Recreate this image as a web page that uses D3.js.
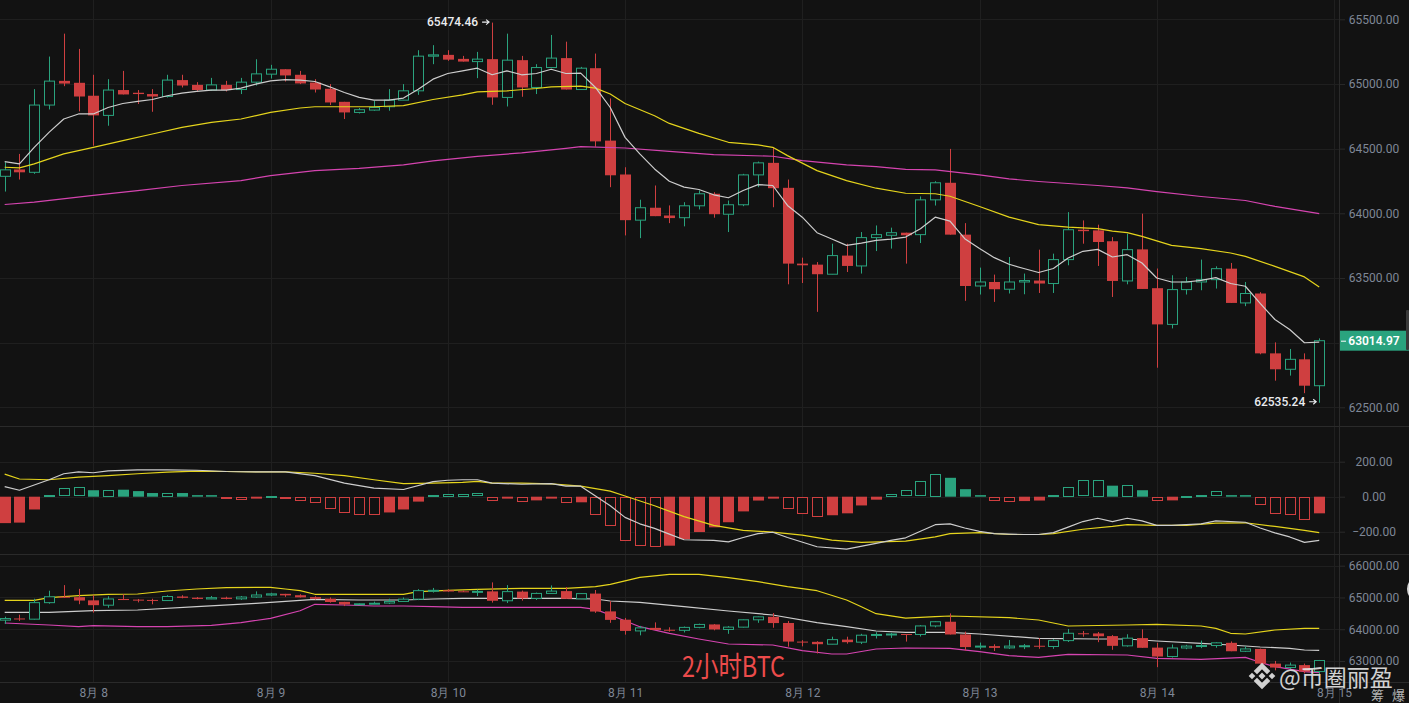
<!DOCTYPE html>
<html>
<head>
<meta charset="utf-8">
<script src="https://cdn.jsdelivr.net/npm/d3@7/dist/d3.min.js"></script>
<style>
  html, body { margin: 0; padding: 0; background: #121212; overflow: hidden; }
  svg { display: block; }
  .tick text { font-family: Roboto, Arial, sans-serif; }
</style>
</head>
<body>
<div id="chart"></div>
<script>
// 2h BTC candles, first visible candle = 8/7 12:00
var startTime = new Date(2024, 7, 7, 12);
var dayStart = new Date(2024, 7, 8);
var dayEnd = new Date(2024, 7, 15);
var dayLabels = ['8月 8', '8月 9', '8月 10', '8月 11', '8月 12', '8月 13', '8月 14', '8月 15'];
var priceTicks = [62500, 63000, 63500, 64000, 64500, 65000, 65500];
var macdTicks = [200, 0, -200];
var bollTicks = [63000, 64000, 65000, 66000];

var opens = [
  64286, 64339, 64317, 64837, 65024, 65009, 64909, 64757, 64953, 64932,
  64922, 64903, 65030, 64993, 64953, 64993, 64957, 65014, 65076, 65114,
  65071, 65011, 64963, 64862, 64780, 64798, 64824, 64875, 64947, 65215,
  65225, 65194, 65173, 65192, 64896, 65184, 64973, 65127, 65200, 64957,
  65122, 64562, 64300, 63947, 64043, 63983, 63966, 64058, 64151, 63993,
  64066, 64297, 64390, 64197, 63611, 63603, 63529, 63673, 63593, 63812,
  63830, 63850, 63835, 64104, 64236, 63835, 63438, 63469, 63413, 63469,
  63480, 63457, 63642, 63873, 63868, 63784, 63477, 63721, 63421, 63141,
  63410, 63469, 63487, 63572, 63307, 63380, 62917, 62794, 62871, 62667
];
var highs = [
  64395, 64459, 64960, 65212, 65389, 65271, 65071, 65037, 65101, 64953,
  64960, 65071, 65071, 65014, 65047, 65024, 65047, 65191, 65148, 65114,
  65101, 65037, 64999, 64862, 64814, 64870, 64960, 64999, 65261, 65300,
  65261, 65217, 65248, 65474.46, 65389, 65217, 65153, 65379, 65327, 65132,
  65235, 64888, 64356, 64105, 64215, 64061, 64086, 64176, 64163, 64099,
  64305, 64400, 64510, 64261, 63657, 63623, 63765, 63765, 63855, 63906,
  63889, 63850, 64130, 64248, 64498, 63924, 63580, 63526, 63662, 63534,
  63719, 63688, 64009, 63945, 63912, 63816, 63842, 63997, 63573, 63521,
  63508, 63642, 63590, 63616, 63469, 63390, 63002, 62951, 62917, 63033
];
var lows = [
  64168, 64261, 64305, 64803, 64983, 64788, 64523, 64677, 64919, 64845,
  64785, 64895, 64973, 64942, 64947, 64942, 64922, 64988, 65042, 65019,
  64999, 64934, 64837, 64729, 64772, 64793, 64793, 64875, 64916, 65153,
  65179, 65173, 65045, 64839, 64826, 64901, 64922, 65127, 64957, 64957,
  64515, 64202, 63829, 63808, 63978, 63924, 63899, 64030, 63966, 63855,
  64055, 64202, 64047, 63451, 63461, 63238, 63529, 63546, 63534, 63708,
  63727, 63611, 63770, 64060, 63835, 63323, 63372, 63315, 63380, 63374,
  63384, 63384, 63598, 63765, 63593, 63353, 63451, 63415, 62806, 63110,
  63372, 63405, 63418, 63307, 63282, 62910, 62706, 62745, 62609, 62535.24
];
var closes = [
  64336, 64317, 64837, 65022, 65003, 64903, 64757, 64953, 64919, 64922,
  64903, 65030, 64988, 64953, 64993, 64953, 65014, 65078, 65114, 65066,
  65004, 64957, 64857, 64780, 64801, 64818, 64875, 64947, 65215, 65225,
  65188, 65173, 65192, 64896, 65184, 64973, 65127, 65200, 64957, 65122,
  64556, 64294, 63947, 64043, 63978, 63963, 64058, 64151, 63993, 64066,
  64297, 64390, 64194, 63611, 63598, 63529, 63673, 63593, 63812, 63835,
  63850, 63830, 64104, 64236, 63835, 63438, 63469, 63413, 63469, 63480,
  63457, 63642, 63873, 63862, 63778, 63477, 63719, 63415, 63141, 63410,
  63469, 63487, 63572, 63307, 63380, 62917, 62794, 62871, 62667, 63014.97
];

// moving averages on the price panel
var ma7 = [
  64400, 64382, 64510, 64626, 64729, 64768, 64768, 64818, 64849, 64865,
  64880, 64909, 64929, 64942, 64953, 64953, 64968, 64999, 65024, 65034,
  65030, 65019, 64978, 64934, 64896, 64875, 64875, 64891, 64960, 65037,
  65081, 65101, 65122, 65071, 65101, 65071, 65081, 65114, 65081, 65084,
  64973, 64818, 64587, 64459, 64343, 64248, 64202, 64184, 64143, 64120,
  64176, 64222, 64215, 64061, 63970, 63850, 63801, 63752, 63770, 63791,
  63800, 63816, 63881, 63970, 63939, 63804, 63727, 63657, 63606, 63573,
  63542, 63573, 63654, 63706, 63721, 63662, 63680, 63616, 63500, 63469,
  63469, 63482, 63503, 63457, 63436, 63303, 63179, 63102, 62999, 63004
];
// [candle index, value]
var ma25 = [[0, 64356], [1, 64351], [2, 64382], [4, 64459], [6, 64510], [8, 64562], [10, 64613], [12, 64664],
  [14, 64703], [16, 64729], [18, 64780], [20, 64814], [21, 64824], [23, 64824], [25, 64824], [27, 64832],
  [29, 64880], [31, 64916], [32, 64939], [34, 64947], [36, 64965], [37, 64978], [39, 64983], [40, 64968],
  [41, 64922], [42, 64849], [44, 64754], [45, 64695], [47, 64618], [49, 64549], [51, 64529], [52, 64510],
  [53, 64446], [55, 64330], [57, 64253], [59, 64194], [61, 64155], [63, 64151], [64, 64132], [66, 64053],
  [68, 63970], [70, 63912], [72, 63893], [74, 63881], [75, 63862], [76, 63850], [77, 63822], [79, 63752],
  [81, 63727], [83, 63693], [84, 63667], [86, 63590], [88, 63508], [89, 63431]];
var ma99 = [[0, 64068], [2, 64086], [6, 64138], [9, 64176], [12, 64215], [16, 64253], [18, 64292], [21, 64330],
  [24, 64348], [27, 64374], [29, 64405], [32, 64440], [35, 64467], [38, 64502], [39, 64515], [42, 64505],
  [45, 64479], [48, 64454], [52, 64441], [54, 64407], [57, 64374], [59, 64361], [61, 64340], [63, 64336],
  [66, 64297], [68, 64266], [70, 64246], [74, 64215], [76, 64197], [78, 64168], [81, 64130], [84, 64099],
  [86, 64053], [89, 63997]];

// MACD
var macdHist = [
  -151, -148, -73, 9, 48, 54, 37, 41, 40, 32,
  21, 24, 21, 9, 9, -11, -15, -11, 6, -11,
  -21, -37, -67, -90, -100, -102, -90, -73, -28, 9,
  16, 18, 19, -21, -11, -26, -21, -11, -33, -32,
  -101, -166, -250, -278, -284, -280, -243, -202, -175, -146,
  -84, -22, -11, -67, -99, -116, -106, -95, -50, -17,
  15, 37, 88, 131, 108, 43, 9, -21, -26, -25,
  -22, 9, 58, 93, 97, 63, 69, 37, -22, -21,
  6, 9, 30, 9, 9, -48, -95, -104, -132, -95
];
var macdDif = [[0, 58], [1, 37], [3, 97], [4, 131], [5, 142], [6, 137], [7, 148], [9, 153], [11, 153], [13, 151],
  [15, 144], [17, 142], [19, 142], [21, 120], [23, 78], [25, 49], [27, 41], [29, 86], [30, 94], [31, 97],
  [32, 97], [33, 78], [35, 71], [37, 75], [38, 60], [39, 60], [40, 4], [41, -52], [42, -118], [43, -155],
  [44, -181], [45, -214], [46, -246], [48, -250], [49, -258], [50, -233], [51, -211], [52, -203], [53, -233],
  [55, -286], [57, -300], [59, -267], [60, -250], [61, -235], [63, -160], [64, -155], [65, -179], [66, -198],
  [67, -211], [69, -216], [70, -216], [71, -205], [72, -174], [73, -142], [74, -123], [75, -142], [76, -123],
  [77, -138], [78, -164], [79, -164], [81, -155], [82, -138], [84, -146], [85, -179], [86, -207], [87, -230],
  [88, -261], [89, -250]];
var macdDea = [[0, 129], [1, 101], [3, 97], [5, 112], [7, 120], [9, 131], [11, 140], [13, 146], [15, 144],
  [17, 142], [19, 142], [21, 134], [23, 120], [25, 97], [27, 75], [29, 78], [31, 82], [32, 88], [33, 78],
  [35, 78], [37, 73], [39, 60], [41, 32], [42, 4], [44, -52], [46, -114], [48, -164], [50, -192], [52, -202],
  [54, -220], [56, -248], [58, -261], [61, -254], [63, -230], [64, -211], [66, -205], [68, -216], [70, -216],
  [71, -211], [73, -186], [75, -170], [76, -160], [78, -164], [80, -164], [82, -151], [84, -149], [86, -170],
  [88, -192], [89, -205]];

// BOLL bands
var bollUp = [[0, 64911], [2, 64911], [3, 64993], [5, 65056], [7, 65100], [9, 65109], [11, 65204], [13, 65267],
  [15, 65307], [18, 65320], [19, 65267], [20, 65213], [21, 65100], [23, 65100], [27, 65100], [28, 65182],
  [30, 65226], [32, 65257], [35, 65289], [38, 65289], [40, 65339], [41, 65414], [43, 65635], [45, 65729],
  [47, 65729], [49, 65622], [51, 65496], [53, 65339], [55, 65213], [57, 64920], [58, 64709], [59, 64490],
  [61, 64350], [63, 64395], [64, 64417], [68, 64363], [70, 64291], [72, 64102], [76, 64133], [78, 64155],
  [81, 64102], [82, 64029], [83, 63872], [84, 63850], [86, 63976], [88, 64029], [89, 64029]];
var bollMid = [[0, 64533], [3, 64533], [6, 64583], [9, 64605], [13, 64709], [17, 64816], [21, 64942], [24, 64920],
  [27, 64920], [29, 64952], [31, 64974], [35, 64974], [38, 64974], [40, 64952], [41, 64889], [43, 64848],
  [46, 64709], [49, 64574], [52, 64448], [55, 64206], [57, 64080], [59, 63944], [61, 63903], [64, 63903],
  [66, 63850], [70, 63715], [74, 63693], [76, 63693], [78, 63630], [81, 63557], [83, 63504], [85, 63441],
  [87, 63400], [88, 63346], [89, 63337]];
var bollLow = [[0, 64196], [3, 64133], [5, 64080], [6, 64111], [9, 64080], [11, 64080], [14, 64124], [16, 64206],
  [18, 64344], [20, 64583], [21, 64785], [23, 64763], [25, 64731], [27, 64731], [29, 64709], [31, 64690],
  [38, 64690], [39, 64690], [40, 64627], [41, 64448], [43, 64080], [45, 63872], [47, 63693], [49, 63535],
  [52, 63504], [54, 63324], [56, 63220], [57, 63220], [59, 63378], [61, 63410], [64, 63400], [66, 63293],
  [68, 63167], [70, 63116], [72, 63211], [76, 63189], [78, 63085], [81, 63053], [84, 63116], [85, 62959],
  [86, 62821], [88, 62663], [89, 62632]];

var width = 1409, height = 703;
var plotRight = 1339;
var bg = '#121212', gridColor = '#1f1f1f', sepColor = '#2a2a2a', axisText = '#7f8796';
var green = '#2aa37e', red = '#cf3f40';
var cWhite = '#cdcdcd', cYellow = '#e5d41c', cMagenta = '#d544b0';

var svg = d3.select('#chart').append('svg')
  .attr('width', width)
  .attr('height', height)
  .style('background', bg);

var x = d3.scaleTime().domain([dayStart, dayEnd]).range([93.3, 1334]);
var yMain = d3.scaleLinear().domain([62500, 65500]).range([407.3, 19.3]);
var yMacd = d3.scaleLinear().domain([-200, 200]).range([531.7, 461.7]);
var yBoll = d3.scaleLinear().domain([63000, 66000]).range([661, 565.7]);

var candles = opens.map(function (o, i) {
  return { t: d3.timeHour.offset(startTime, i * 2), o: o, h: highs[i], l: lows[i], c: closes[i] };
});
function tx(i) { return x(d3.timeHour.offset(startTime, i * 2)); }
function px(i) { return Math.round(tx(i)); }

var dayTicks = d3.timeDay.range(dayStart, d3.timeDay.offset(dayEnd, 1));

// grid
var grid = svg.append('g').attr('class', 'grid');
grid.selectAll('.vgrid').data(dayTicks).enter().append('line')
  .attr('x1', function (d) { return Math.round(x(d)) + 0.5; })
  .attr('x2', function (d) { return Math.round(x(d)) + 0.5; })
  .attr('y1', 0).attr('y2', 682)
  .attr('stroke', gridColor);
function hgrid(ticks, y) {
  grid.selectAll(null).data(ticks).enter().append('line')
    .attr('x1', 0).attr('x2', plotRight)
    .attr('y1', function (d) { return Math.round(y(d)) + 0.5; })
    .attr('y2', function (d) { return Math.round(y(d)) + 0.5; })
    .attr('stroke', gridColor);
}
hgrid(priceTicks, yMain);
hgrid(macdTicks, yMacd);
hgrid(bollTicks, yBoll);

// panel separators and right border
[426, 554, 682].forEach(function (yy) {
  svg.append('line').attr('x1', 0).attr('x2', width).attr('y1', yy + 0.5).attr('y2', yy + 0.5).attr('stroke', sepColor);
});
svg.append('line').attr('x1', plotRight + 0.5).attr('x2', plotRight + 0.5).attr('y1', 0).attr('y2', height).attr('stroke', sepColor);

// right axes
function rightAxis(y, ticks) {
  var g = svg.append('g')
    .attr('class', 'axis')
    .attr('transform', 'translate(' + plotRight + ',0)')
    .call(d3.axisRight(y).tickValues(ticks).tickFormat(d3.format('.2f')).tickSize(6));
  g.select('.domain').remove();
  g.selectAll('.tick line').attr('stroke', sepColor);
  g.selectAll('.tick text')
    .attr('x', 35).attr('text-anchor', 'middle')
    .attr('fill', axisText).style('font-size', '12px');
}
rightAxis(yMain, priceTicks);
rightAxis(yMacd, macdTicks);
rightAxis(yBoll, bollTicks);

// time axis
var xAxis = svg.append('g')
  .attr('class', 'axis axis-x')
  .attr('transform', 'translate(0,682)')
  .call(d3.axisBottom(x).tickValues(dayTicks).tickSize(0).tickPadding(6)
    .tickFormat(function (d, i) { return dayLabels[i]; }));
xAxis.select('.domain').remove();
xAxis.selectAll('.tick text').attr('fill', axisText).style('font-size', '12px');

// candles
function drawCandles(y) {
  var g = svg.append('g').attr('class', 'candles');
  var c = g.selectAll('g').data(candles).enter().append('g');
  c.append('line')
    .attr('x1', function (d, i) { return px(i) + 0.5; })
    .attr('x2', function (d, i) { return px(i) + 0.5; })
    .attr('y1', function (d) { return y(d.h); })
    .attr('y2', function (d) { return y(d.l); })
    .attr('stroke', function (d) { return d.c >= d.o ? green : red; });
  c.append('rect')
    .attr('x', function (d, i) { return d.c >= d.o ? px(i) - 4.5 : px(i) - 5; })
    .attr('y', function (d) { return y(Math.max(d.o, d.c)); })
    .attr('width', function (d) { return d.c >= d.o ? 10 : 11; })
    .attr('height', function (d) { return Math.max(1, y(Math.min(d.o, d.c)) - y(Math.max(d.o, d.c))); })
    .attr('fill', function (d) { return d.c >= d.o ? bg : red; })
    .attr('stroke', function (d) { return d.c >= d.o ? green : 'none'; });
}

var line = function (y) {
  return d3.line()
    .x(function (d) { return tx(d[0]); })
    .y(function (d) { return y(d[1]); });
};
function drawLine(data, y, color) {
  svg.append('path')
    .datum(data)
    .attr('fill', 'none')
    .attr('stroke', color)
    .attr('stroke-width', 1.2)
    .attr('stroke-linejoin', 'round')
    .attr('d', line(y));
}

// price panel
drawCandles(yMain);
drawLine(ma99, yMain, cMagenta);
drawLine(ma25, yMain, cYellow);
drawLine(ma7.map(function (v, i) { return [i, v]; }), yMain, cWhite);

// MACD histogram, hollow while the bar grows
var hist = svg.append('g').attr('class', 'bars');
hist.selectAll('rect').data(macdHist).enter().append('rect')
  .each(function (v, i) {
    var prev = i > 0 ? macdHist[i - 1] : v;
    var growing = v >= 0 ? v > prev : v < prev;
    var top = yMacd(Math.max(v, 0)), bot = yMacd(Math.min(v, 0));
    var col = v >= 0 ? green : red;
    var s = d3.select(this);
    if (growing) {
      s.attr('x', px(i) - 4.5).attr('y', Math.round(top) + 0.5).attr('width', 10)
        .attr('height', Math.max(1, Math.round(bot - top) - 1))
        .attr('fill', bg).attr('stroke', col);
    } else {
      s.attr('x', px(i) - 5).attr('y', top).attr('width', 11)
        .attr('height', Math.max(1, bot - top)).attr('fill', col);
    }
  });
drawLine(macdDea, yMacd, cYellow);
drawLine(macdDif, yMacd, cWhite);

// BOLL panel
drawLine(bollUp, yBoll, cYellow);
drawLine(bollMid, yBoll, cWhite);
drawLine(bollLow, yBoll, cMagenta);
drawCandles(yBoll);

// max / min markers with a small arrow pointing at the candle
function marker(i, value, textY, arrowY) {
  var cx = tx(i);
  svg.append('text')
    .attr('x', cx - 14).attr('y', textY)
    .attr('text-anchor', 'end').attr('fill', '#eaecef')
    .style('font', '500 12px Roboto, Arial, sans-serif')
    .text(d3.format('.2f')(value));
  svg.append('path')
    .attr('d', 'M' + (cx - 10) + ',' + arrowY + 'H' + (cx - 3) +
      'M' + (cx - 6) + ',' + (arrowY - 2.5) + 'L' + (cx - 3) + ',' + arrowY + 'L' + (cx - 6) + ',' + (arrowY + 2.5))
    .attr('fill', 'none').attr('stroke', '#eaecef').attr('stroke-width', 1.1);
}
var hiIdx = highs.indexOf(d3.max(highs));
var loIdx = lows.indexOf(d3.min(lows));
marker(hiIdx, highs[hiIdx], yMain(highs[hiIdx]) + 3.5, yMain(highs[hiIdx]) - 0.5);
marker(loIdx, lows[loIdx], yMain(lows[loIdx]) + 3, yMain(lows[loIdx]) - 1);

// last price tag
var last = closes[closes.length - 1];
var ly = yMain(last);
svg.append('rect').attr('x', plotRight + 1).attr('y', ly - 10).attr('width', width - plotRight).attr('height', 20).attr('fill', green);
svg.append('line').attr('x1', plotRight + 2).attr('x2', plotRight + 7).attr('y1', ly + 0.5).attr('y2', ly + 0.5).attr('stroke', '#ffffff');
svg.append('text')
  .attr('x', 1374).attr('y', ly + 4.5).attr('text-anchor', 'middle')
  .attr('fill', '#ffffff').style('font', '600 12px Roboto, Arial, sans-serif')
  .text(d3.format('.2f')(last));
svg.append('rect').attr('x', 1406).attr('y', 310).attr('width', 3).attr('height', 40).attr('rx', 1).attr('fill', '#3a3a3a');
svg.append('circle').attr('cx', 1420).attr('cy', 589).attr('r', 13).attr('fill', '#d9d9d9');

// watermarks
svg.append('text')
  .attr('transform', 'translate(682,677) scale(1,1.18)')
  .attr('fill', '#ec4b4b')
  .style('font', '24px "Noto Sans CJK SC", "Noto Sans", sans-serif')
  .attr('textLength', 103).attr('lengthAdjust', 'spacingAndGlyphs')
  .text('2小时BTC');

var logo = svg.append('g').attr('transform', 'translate(1262,676)').attr('fill', '#e6e6e6').attr('opacity', 0.9);
logo.append('path').attr('d', 'M0,-3.5 L3.5,0 L0,3.5 L-3.5,0 Z');
logo.append('path').attr('d', 'M-10,-3.3 L-6.7,0 L-10,3.3 L-13.3,0 Z');
logo.append('path').attr('d', 'M10,-3.3 L13.3,0 L10,3.3 L6.7,0 Z');
logo.append('path').attr('d', 'M0,-13.3 L8.3,-5 L5,-1.7 L0,-6.7 L-5,-1.7 L-8.3,-5 Z');
logo.append('path').attr('d', 'M0,13.3 L8.3,5 L5,1.7 L0,6.7 L-5,1.7 L-8.3,5 Z');

svg.append('text')
  .attr('x', 1279).attr('y', 686)
  .attr('fill', '#e6e6e6').attr('opacity', 0.9)
  .style('font', '23px "Noto Sans CJK SC", sans-serif')
  .text('@币圈丽盈');
svg.selectAll('.wm2').data(['筹', '爆']).enter().append('text')
  .attr('class', 'wm2')
  .attr('x', function (d, i) { return 1371 + i * 21; })
  .attr('y', 700)
  .attr('fill', '#b5b5b5')
  .style('font', '13px "Noto Sans CJK SC", sans-serif')
  .text(function (d) { return d; });
</script>
</body>
</html>
